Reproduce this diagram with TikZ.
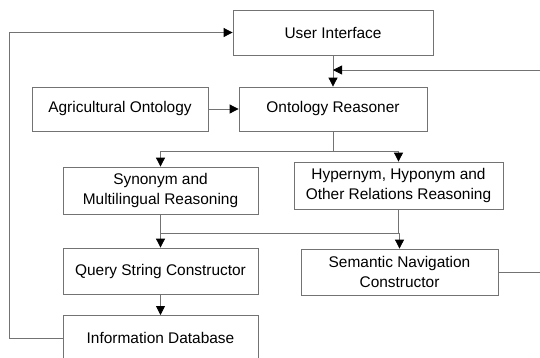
\documentclass[tikz,border=0pt]{standalone}
\usepackage{fontspec}
\setmainfont{Liberation Sans}
\usetikzlibrary{arrows.meta}
\begin{document}
\begin{tikzpicture}[x=1bp,y=-1bp,
  box/.style={draw=black!55, line width=0.8bp, align=center, inner sep=0pt,
    font=\fontsize{15.5}{19.5}\selectfont, text=black},
  wire/.style={draw=black!55, line width=0.8bp},
  arr/.style={wire, -{Triangle[length=9bp,width=9bp,fill=black,color=black]}}]
\useasboundingbox (0,0) rectangle (540,357);
\clip (0,0) rectangle (540,357);
% boxes: centres and sizes in picture units
\node[box, minimum width=200bp, minimum height=45bp] (ui) at (333,32.5) {User Interface};
\node[box, minimum width=176bp, minimum height=44bp] (agri) at (120,109) {Agricultural Ontology};
\node[box, minimum width=188bp, minimum height=44bp] (reas) at (333,109) {Ontology Reasoner};
\node[box, minimum width=195bp, minimum height=47bp] (syn) at (160.5,190.5) {Synonym and\\Multilingual Reasoning};
\node[box, minimum width=209bp, minimum height=47bp] (hyp) at (398.5,185.5) {Hypernym, Hyponym and\\Other Relations Reasoning};
\node[box, minimum width=195bp, minimum height=46bp] (qsc) at (160.5,271) {Query String Constructor};
\node[box, minimum width=197bp, minimum height=46bp] (snc) at (399.5,272) {Semantic Navigation\\Constructor};
\node[box, minimum width=195bp, minimum height=56bp, anchor=north] (idb) at (160.5,315) {};
\node[font=\fontsize{15.5}{19.5}\selectfont, text=black] (idbt) at (160.5,338) {Information Database};
% feedback path anchors
\coordinate (fb1) at (540,70);
\coordinate (fb2) at (540,272);
\coordinate (split1) at (333,151);
\coordinate (merge) at (279,233.5);
% connectors
\draw[arr] (ui.south) -- (reas.north);
\draw[arr] (fb1) -- (333,70);
\draw[arr] (agri.east) -- (reas.west);
\draw[wire] (reas.south) -- (split1);
\draw[arr] (split1) -| (syn.north);
\draw[arr] (split1) -| (hyp.north);
\draw[wire] (syn.south) |- (merge);
\draw[wire] (hyp.south) |- (merge);
\draw[arr] (merge) -| (qsc.north);
\draw[arr] (merge) -| (snc.north);
\draw[arr] (qsc.south) -- (idb.north);
\draw[wire] (snc.east) -- (fb2);
\draw[arr] (idb.west |- idbt) -- ++(-53,0) |- (ui.west);
\end{tikzpicture}
\end{document}
